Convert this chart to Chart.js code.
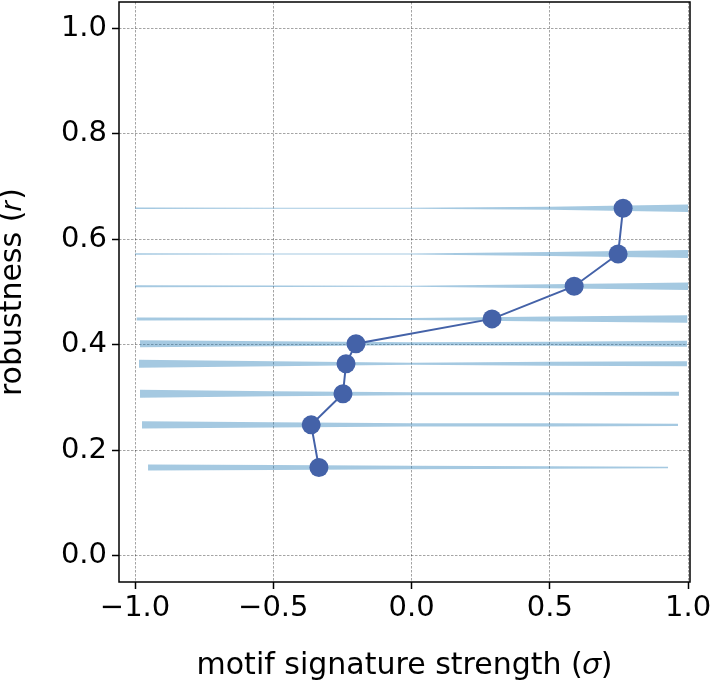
<!DOCTYPE html>
<html>
<head>
<meta charset="utf-8">
<script src="https://cdn.jsdelivr.net/npm/chart.js@4/dist/chart.umd.min.js"></script>
<style>
  html, body { margin: 0; padding: 0; background: #fff; }
  #wrap { width: 712px; height: 684px; }
</style>
</head>
<body>
<div id="wrap"><canvas id="myChart"></canvas></div>
<script>
// data
const signature = [0.765, 0.747, 0.588, 0.291, -0.201, -0.237, -0.248, -0.363, -0.335];
const robustness = [0.659, 0.572, 0.511, 0.449, 0.402, 0.364, 0.307, 0.248, 0.167];

// background bands: x extent and thickness (in r units) at start, -0.5, 0, 0.5, end
const bandStart = [-1.0, -1.0, -1.0, -0.995, -0.982, -0.986, -0.982, -0.975, -0.953];
const bandEnd = [1.0, 1.0, 1.0, 0.998, 0.996, 0.996, 0.967, 0.964, 0.928];
const bandSpread = [
  [0.0028, 0.0019, 0.0019, 0.0057, 0.0142],
  [0.0028, 0.0019, 0.0019, 0.0076, 0.0152],
  [0.0038, 0.0028, 0.0019, 0.0076, 0.0142],
  [0.0057, 0.0047, 0.0038, 0.0095, 0.0142],
  [0.0133, 0.0095, 0.0057, 0.0076, 0.0114],
  [0.0152, 0.0095, 0.0038, 0.0076, 0.0095],
  [0.0152, 0.0095, 0.0057, 0.0057, 0.0076],
  [0.0133, 0.0095, 0.0066, 0.0057, 0.0047],
  [0.0114, 0.0095, 0.0066, 0.0047, 0.0028],
];

const xTicks = [-1.0, -0.5, 0.0, 0.5, 1.0];
const yTicks = [0.0, 0.2, 0.4, 0.6, 0.8, 1.0];

const lineColor = "#4462a8";
const bandColor = "rgba(31, 119, 180, 0.4)";

Chart.defaults.font.family = "'DejaVu Sans', sans-serif";
Chart.defaults.color = "#000";

const datasets = [
  {
    type: "line",
    data: signature.map((x, i) => ({ x: x, y: robustness[i] })),
    borderColor: lineColor,
    backgroundColor: lineColor,
    borderWidth: 2,
    pointRadius: 9.5,
    pointBorderWidth: 0,
    fill: false,
    order: 0,
  },
];

bandSpread.forEach((spread, i) => {
  const xs = [bandStart[i], -0.5, 0, 0.5, bandEnd[i]];
  datasets.push({
    type: "line",
    data: xs.map((x, k) => ({ x: x, y: robustness[i] + spread[k] / 2 })),
    borderWidth: 0,
    pointRadius: 0,
    fill: false,
    order: 1,
  });
  datasets.push({
    type: "line",
    data: xs.map((x, k) => ({ x: x, y: robustness[i] - spread[k] / 2 })),
    borderWidth: 0,
    pointRadius: 0,
    backgroundColor: bandColor,
    fill: "-1",
    order: 1,
  });
});

const frame = {
  id: "frame",
  afterDraw: (chart) => {
    const { ctx, chartArea } = chart;
    ctx.save();
    ctx.strokeStyle = "#000";
    ctx.lineWidth = 1.5;
    ctx.strokeRect(chartArea.left, chartArea.top, chartArea.right - chartArea.left, chartArea.bottom - chartArea.top);
    ctx.restore();
  },
};

const fmt = (v) => {
  const s = Number(v).toFixed(1);
  return s.replace("-", "\u2212");
};

const gridStyle = {
  color: "rgba(0,0,0,0.6)",
  lineWidth: 0.6,
  tickLength: 7,
  tickColor: "#000",
  tickWidth: 1.5,
  tickBorderDash: [],
};

const ctx = document.getElementById("myChart").getContext("2d");
new Chart(ctx, {
  type: "line",
  data: { datasets: datasets },
  plugins: [frame],
  options: {
    responsive: true,
    maintainAspectRatio: false,
    animation: false,
    layout: { autoPadding: false, padding: { top: 2, right: 22, left: -5, bottom: 0 } },
    plugins: {
      legend: { display: false },
      tooltip: { enabled: false },
    },
    scales: {
      x: {
        type: "linear",
        min: -1.058,
        max: 1.007,
        afterBuildTicks: (scale) => {
          scale.ticks = xTicks.map((v) => ({ value: v }));
        },
        afterFit: (scale) => {
          scale.height = 102;
          scale.paddingLeft = 0;
          scale.paddingRight = 0;
        },
        ticks: {
          font: { size: 29 },
          padding: 2,
          maxRotation: 0,
          callback: (v) => fmt(v),
        },
        grid: gridStyle,
        border: { display: false, dash: [2.5, 1.5] },
        title: {
          display: true,
          text: "motif signature strength (\u{1D70E})",
          font: { size: 30 },
          padding: { top: 0, bottom: 0 },
        },
      },
      y: {
        type: "linear",
        min: -0.05,
        max: 1.05,
        afterBuildTicks: (scale) => {
          scale.ticks = yTicks.map((v) => ({ value: v }));
        },
        afterFit: (scale) => {
          scale.width = 124;
          scale.paddingTop = 0;
          scale.paddingBottom = 0;
        },
        ticks: {
          font: { size: 29 },
          padding: 5,
          callback: (v) => fmt(v),
        },
        grid: gridStyle,
        border: { display: false, dash: [2.5, 1.5] },
        title: {
          display: true,
          text: "robustness (\u{1D45F})",
          font: { size: 30 },
          padding: { top: 0, bottom: 0 },
        },
      },
    },
  },
});
</script>
</body>
</html>
